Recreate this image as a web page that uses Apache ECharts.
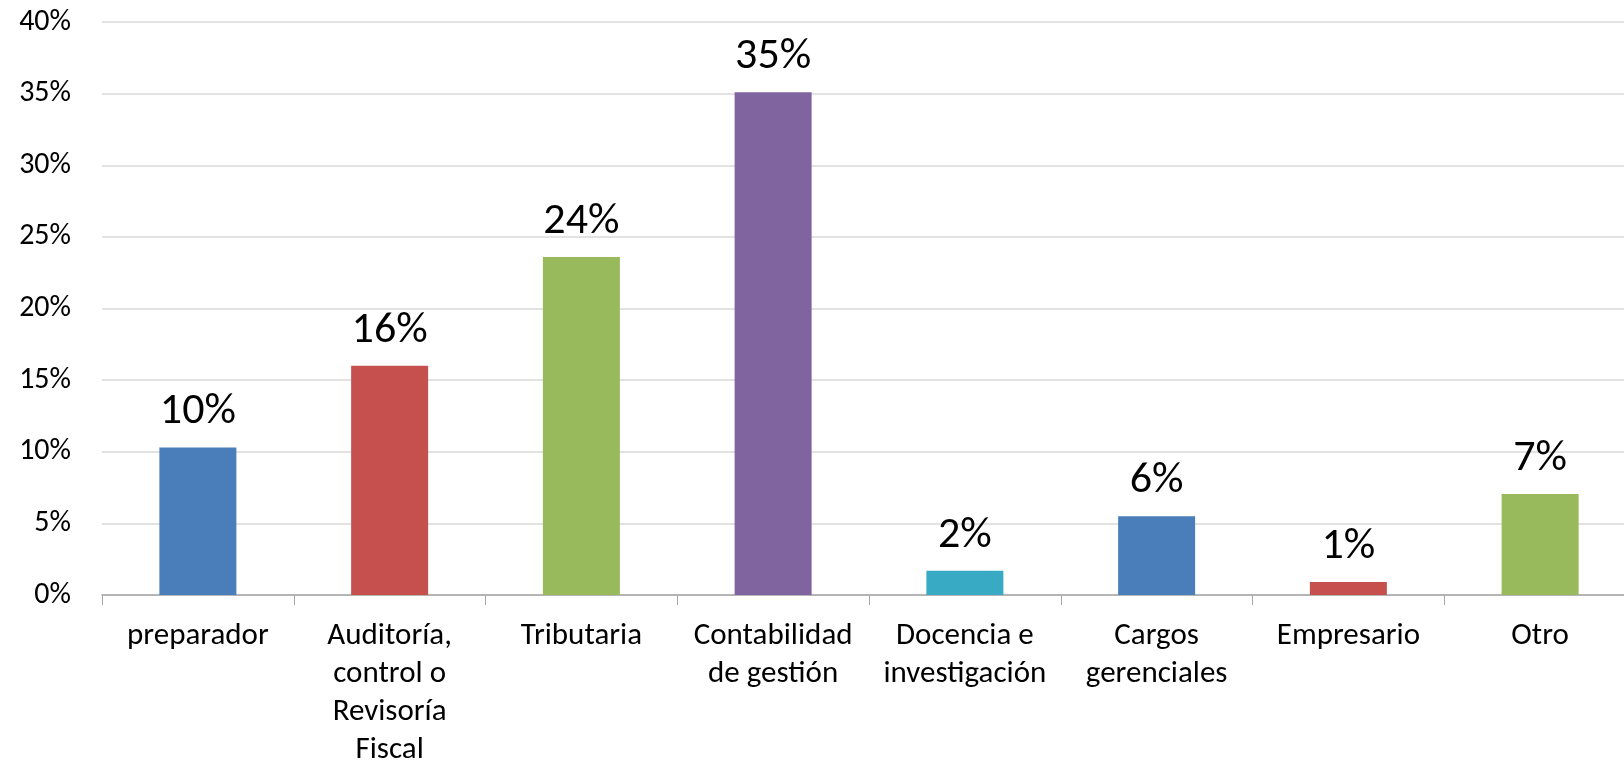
<!DOCTYPE html>
<html>
<head>
<meta charset="utf-8">
<script src="https://cdn.jsdelivr.net/npm/echarts@6/dist/echarts.min.js"></script>
<style>
  html, body { margin: 0; padding: 0; background: #fff; }
  #chart { width: 1624px; height: 768px; }
</style>
</head>
<body>
<div id="chart"></div>
<script>
const categories = [
  'preparador',
  'Auditoría,\ncontrol o\nRevisoría\nFiscal',
  'Tributaria',
  'Contabilidad\nde gestión',
  'Docencia e\ninvestigación',
  'Cargos\ngerenciales',
  'Empresario',
  'Otro'
]
const values = [10.3, 16.0, 23.6, 35.1, 1.7, 5.5, 0.9, 7.05]
const barColors = ['#4A7EBB', '#C6504E', '#98B95C', '#8064A0', '#38AAC4', '#4A7EBB', '#C6504E', '#98B95C']
const yTicks = { min: 0, max: 40, interval: 5 }

const fontFamily = 'Calibri, Carlito, Lato, sans-serif'

const chart = echarts.init(document.getElementById('chart'))
chart.setOption({
  animation: false,
  grid: {
    left: 102,
    top: 22,
    width: 1534,
    height: 573,
    containLabel: false,
    outerBoundsMode: 'none'
  },
  xAxis: {
    type: 'category',
    data: categories,
    axisLine: { lineStyle: { color: '#A6A6A6', width: 1.5 } },
    axisTick: { show: true, length: 10, lineStyle: { color: '#A6A6A6' } },
    axisLabel: {
      color: '#000',
      fontFamily: fontFamily,
      fontSize: 31,
      lineHeight: 38,
      margin: 22,
      interval: 0
    }
  },
  yAxis: {
    type: 'value',
    min: yTicks.min,
    max: yTicks.max,
    interval: yTicks.interval,
    axisLine: { show: false },
    axisTick: { show: false },
    splitLine: { lineStyle: { color: '#D9D9D9', width: 1.5 } },
    axisLabel: {
      color: '#000',
      fontFamily: fontFamily,
      fontSize: 30,
      margin: 31,
      formatter: '{value}%'
    }
  },
  series: [{
    type: 'bar',
    data: values.map((v, i) => ({ value: v, itemStyle: { color: barColors[i] } })),
    barWidth: 77,
    label: {
      show: true,
      position: 'top',
      distance: 13,
      color: '#000',
      fontFamily: fontFamily,
      fontSize: 44,
      formatter: p => Math.round(p.value) + '%'
    }
  }]
})
</script>
</body>
</html>
